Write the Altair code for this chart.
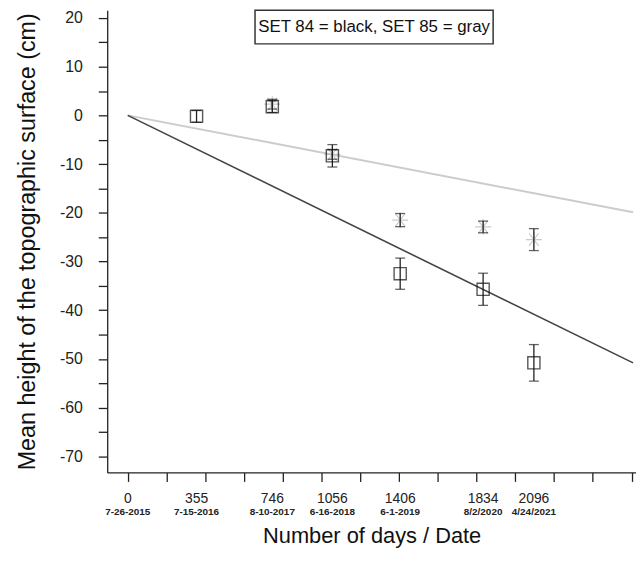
import altair as alt
import pandas as pd

FONT = "Liberation Sans"

# ---- data ----
days84 = [355, 746, 1056, 1406, 1834, 2096]
mean84 = [-0.2, 1.8, -8.3, -32.5, -35.7, -50.8]
err84 = [1.2, 1.2, 2.3, 3.2, 3.3, 3.75]

days85 = [746, 1056, 1406, 1834, 2096]
mean85 = [2.3, -8.0, -21.5, -22.9, -25.5]
err85 = [1.0, 1.0, 1.35, 1.2, 2.25]

trend_days = [0, 2608]
trend84 = [0, -50.8]
trend85 = [0, -19.9]

label_days = [0, 355, 746, 1056, 1406, 1834, 2096]
label_dates = ["7-26-2015", "7-15-2016", "8-10-2017", "6-16-2018",
               "6-1-2019", "8/2/2020", "4/24/2021"]

x_ticks = list(range(0, 2601, 200))
y_ticks = list(range(-70, 21, 5))
legend_text = "SET 84 = black, SET 85 = gray"

# ---- tables ----
pts84 = pd.DataFrame({"day": days84, "val": mean84,
                      "lo": [m - e for m, e in zip(mean84, err84)],
                      "hi": [m + e for m, e in zip(mean84, err84)]})
pts85 = pd.DataFrame({"day": days85, "val": mean85,
                      "lo": [m - e for m, e in zip(mean85, err85)],
                      "hi": [m + e for m, e in zip(mean85, err85)]})
errs = pd.concat([pts84, pts85], ignore_index=True)
tr84 = pd.DataFrame({"day": trend_days, "val": trend84})
tr85 = pd.DataFrame({"day": trend_days, "val": trend85})
labs = pd.DataFrame({"day": label_days, "num": [str(d) for d in label_days],
                     "date": label_dates})
leg = pd.DataFrame({"t": [legend_text]})

W, H = 533, 466

xscale = alt.Scale(domain=[-106, 2623], nice=False, zero=False)
yscale = alt.Scale(domain=[-73.3, 21.6], nice=False, zero=False)

XTITLE = "Number of days / Date"
YTITLE = "Mean height of the topographic surface (cm)"

xaxis = alt.Axis(values=x_ticks, labels=False, grid=False, tickSize=9,
                 tickColor="#222", tickWidth=1.3, domainColor="#222",
                 domainWidth=1.3, title=XTITLE, titleFont=FONT,
                 titleFontSize=22, titleFontWeight="normal",
                 titleColor="#111", titlePadding=44)
yaxis = alt.Axis(values=y_ticks,
                 labelExpr="datum.value % 10 === 0 ? '' + datum.value : ''",
                 grid=False, tickSize=9, tickColor="#222", tickWidth=1.3,
                 domainColor="#222", domainWidth=1.3, labelFont=FONT,
                 labelFontSize=16, labelColor="#222", labelPadding=16,
                 title=YTITLE, titleFont=FONT, titleFontSize=23.5,
                 titleFontWeight="normal", titleColor="#111",
                 titlePadding=20)


def X(field="day"):
    return alt.X(f"{field}:Q", scale=xscale, axis=xaxis, title=XTITLE)


def Y(field):
    return alt.Y(f"{field}:Q", scale=yscale, axis=yaxis, title=YTITLE)


line85 = alt.Chart(tr85).mark_line(color="#cccccc", strokeWidth=2).encode(
    x=X(), y=Y("val"))
line84 = alt.Chart(tr84).mark_line(color="#444444", strokeWidth=1.6).encode(
    x=X(), y=Y("val"))

ASTER = "M-1,0L1,0M-0.6,-0.8L0.6,0.8M-0.6,0.8L0.6,-0.8M0,-1L0,1"
stars = alt.Chart(pts85).mark_point(shape=ASTER, size=256, filled=False,
                                    color="#b4b4b4", strokeWidth=1.2).encode(
    x=X(), y=Y("val"))

bars = alt.Chart(errs).mark_rule(color="#222", strokeWidth=1.3).encode(
    x=X(), y=Y("lo"), y2="hi:Q")
caps_lo = alt.Chart(errs).mark_tick(orient="horizontal", size=10,
                                    thickness=1.3, color="#222").encode(
    x=X(), y=Y("lo"))
caps_hi = alt.Chart(errs).mark_tick(orient="horizontal", size=10,
                                    thickness=1.3, color="#222").encode(
    x=X(), y=Y("hi"))

squares = alt.Chart(pts84).mark_point(shape="square", size=150, filled=False,
                                      color="#111", strokeWidth=1.4).encode(
    x=X(), y=Y("val"))

nums = alt.Chart(labs).mark_text(font=FONT, fontSize=14, color="#222",
                                 baseline="middle").encode(
    x=X(), y=alt.value(H + 27), text="num:N")
dates = alt.Chart(labs).mark_text(font=FONT, fontSize=10, fontWeight="bold",
                                  color="#222", baseline="middle").encode(
    x=X(), y=alt.value(H + 40), text="date:N")

box = alt.Chart(leg).mark_rect(fill="white", stroke="#333",
                               strokeWidth=1.5).encode(
    x=alt.value(149), x2=alt.value(389), y=alt.value(0), y2=alt.value(34))
box_text = alt.Chart(leg).mark_text(font=FONT, fontSize=17, color="#111",
                                    baseline="middle", align="center").encode(
    x=alt.value(269), y=alt.value(17), text="t:N")

chart = alt.layer(
    line85, line84, stars, bars, caps_lo, caps_hi, squares, nums, dates,
    box, box_text
).properties(
    width=W, height=H,
    autosize=alt.AutoSizeParams(type="none"),
    padding={"left": 100, "top": 0, "right": 0, "bottom": 78},
).configure_view(stroke=None)

chart.save("out.html", embed_options={"renderer": "svg", "actions": False})
